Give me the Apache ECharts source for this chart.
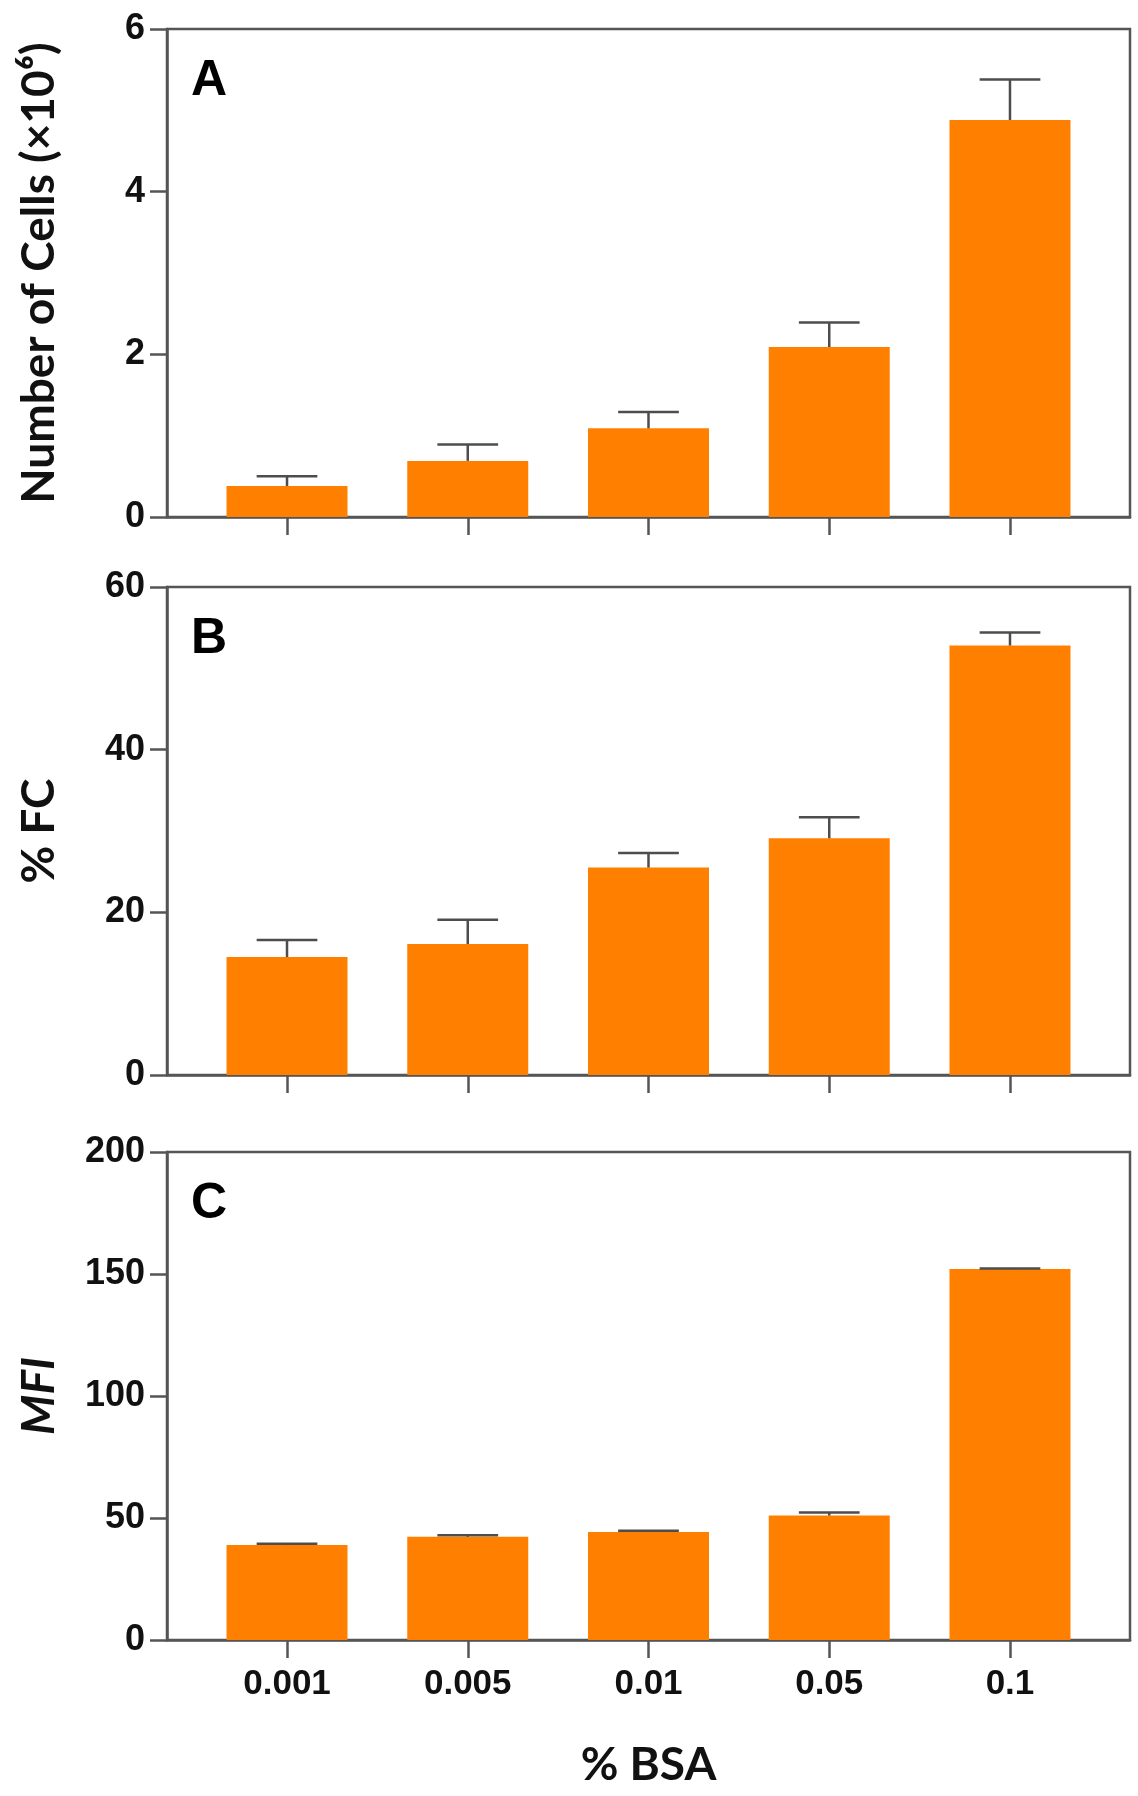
<!DOCTYPE html>
<html>
<head>
<meta charset="utf-8">
<script src="https://cdn.jsdelivr.net/npm/echarts@6/dist/echarts.min.js"></script>
<style>
html,body{margin:0;padding:0;background:#fff;}
#chart{width:1138px;height:1796px;}
</style>
</head>
<body>
<div id="chart"></div>
<script>
// ---- data ----
const categories = ['0.001', '0.005', '0.01', '0.05', '0.1'];
const cellsMean = [0.38, 0.69, 1.09, 2.09, 4.88];
const cellsErr  = [0.12, 0.20, 0.20, 0.30, 0.50];
const fcMean = [14.5, 16.1, 25.5, 29.1, 52.8];
const fcErr  = [2.1, 3.0, 1.8, 2.6, 1.6];
const mfiMean = [38.9, 42.3, 44.3, 51.0, 152.0];
const mfiErr  = [0.5, 0.6, 0.5, 1.3, 0.3];
const yTicksA = {min: 0, max: 6, interval: 2};
const yTicksB = {min: 0, max: 60, interval: 20};
const yTicksC = {min: 0, max: 200, interval: 50};
const panelLetters = ['A', 'B', 'C'];
const yNames = ['Number of Cells (×10⁶)', '% FC', 'MFI'];
const xName = '% BSA';

// ---- layout ----
const GRID_LEFT = 167, GRID_W = 963, GRID_H = 488;
const GRID_TOPS = [29, 587, 1152];
const AXIS_COLOR = '#555555';
const BAR_COLOR = '#FF8000';
const LABEL_FONT = '"Liberation Sans", Arial, sans-serif';
const TITLE_FONT = 'Lato, "Noto Sans", sans-serif';

const panels = [
  {mean: cellsMean, err: cellsErr, y: yTicksA},
  {mean: fcMean, err: fcErr, y: yTicksB},
  {mean: mfiMean, err: mfiErr, y: yTicksC}
];
const catIdx = categories.map((c, i) => i);

const chart = echarts.init(document.getElementById('chart'), null, {renderer: 'canvas'});

const grid = [], xAxis = [], yAxis = [], series = [], graphic = [];
panels.forEach((p, k) => {
  grid.push({
    left: GRID_LEFT, top: GRID_TOPS[k], width: GRID_W, height: GRID_H,
    show: true, borderColor: AXIS_COLOR, borderWidth: 2.5, backgroundColor: 'transparent'
  });
  xAxis.push({
    gridIndex: k, type: 'value', min: -0.664, max: 4.664,
    axisLine: {show: true, onZero: false, lineStyle: {color: AXIS_COLOR, width: 2.5}},
    axisTick: {show: true, customValues: catIdx, length: 18, lineStyle: {color: AXIS_COLOR, width: 2.5}},
    axisLabel: {
      show: k === 2, customValues: catIdx, margin: 27,
      formatter: v => categories[Math.round(v)],
      color: '#111', fontSize: 35, fontWeight: 'bold', fontFamily: LABEL_FONT
    },
    splitLine: {show: false},
    name: k === 2 ? xName : '',
    nameLocation: 'middle', nameGap: 102,
    nameTextStyle: {color: '#111', fontSize: 46, fontWeight: 'bold', fontFamily: TITLE_FONT}
  });
  yAxis.push({
    gridIndex: k, type: 'value', min: p.y.min, max: p.y.max, interval: p.y.interval,
    axisLine: {show: true, onZero: false, lineStyle: {color: AXIS_COLOR, width: 2.5}},
    axisTick: {show: true, length: 17, lineStyle: {color: AXIS_COLOR, width: 2.5}},
    axisLabel: {margin: 22, color: '#111', fontSize: 36, fontWeight: 'bold', fontFamily: LABEL_FONT},
    splitLine: {show: false},
    name: yNames[k], nameLocation: 'middle', nameGap: 105, nameRotate: 90,
    nameTextStyle: {
      color: '#111', fontSize: 46, fontWeight: 'bold', fontFamily: TITLE_FONT,
      fontStyle: k === 2 ? 'italic' : 'normal'
    }
  });
  series.push({
    type: 'bar', xAxisIndex: k, yAxisIndex: k, barWidth: 121,
    itemStyle: {color: BAR_COLOR},
    data: p.mean.map((v, i) => [i, v]),
    z: 2
  });
  series.push({
    type: 'custom', xAxisIndex: k, yAxisIndex: k,
    dimensions: ['x', 'mean', 'err'],
    encode: {x: 0, y: 1},
    data: p.mean.map((v, i) => [i, v, p.err[i]]),
    renderItem: function (params, api) {
      const x = api.value(0), m = api.value(1), e = api.value(2);
      const p0 = api.coord([x, m]);
      const p1 = api.coord([x, m + e]);
      const hw = api.size([0.168, 0])[0];
      const st = {stroke: '#4d4d4d', lineWidth: 2.5};
      return {
        type: 'group',
        children: [
          {type: 'line', shape: {x1: p0[0], y1: p0[1], x2: p1[0], y2: p1[1]}, style: st},
          {type: 'line', shape: {x1: p1[0] - hw, y1: p1[1], x2: p1[0] + hw, y2: p1[1]}, style: st}
        ]
      };
    },
    z: 3
  });
  graphic.push({
    type: 'text', left: 191, top: GRID_TOPS[k] + 27,
    style: {text: panelLetters[k], fontSize: 50, fontWeight: 'bold', fontFamily: LABEL_FONT, fill: '#000'}
  });
});

chart.setOption({
  animation: false,
  backgroundColor: '#fff',
  grid, xAxis, yAxis, series, graphic
});
</script>
</body>
</html>
